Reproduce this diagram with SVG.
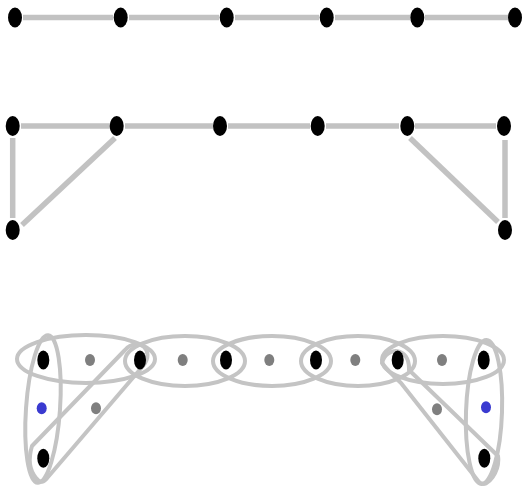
<svg xmlns="http://www.w3.org/2000/svg" width="522" height="487" viewBox="0 0 522 487">
<style>
.e{stroke:#c2c2c2;stroke-width:5.5;stroke-linecap:butt;fill:none}
.h{stroke:#c4c4c4;stroke-width:4;fill:none;stroke-linejoin:round}
.n{fill:#000}
.g{fill:#7f7f7f}
.b{fill:#3a3ad0}
</style>
<rect width="522" height="487" fill="#fff"/>
<g id="connectors">
<line class="e" x1="23" y1="17.5" x2="113" y2="17.5"/>
<line class="e" x1="129" y1="17.5" x2="219" y2="17.5"/>
<line class="e" x1="235" y1="17.5" x2="319" y2="17.5"/>
<line class="e" x1="335" y1="17.5" x2="410" y2="17.5"/>
<line class="e" x1="425" y1="17.5" x2="508" y2="17.5"/>
<line class="e" x1="21" y1="126" x2="110" y2="126"/>
<line class="e" x1="125" y1="126" x2="213" y2="126"/>
<line class="e" x1="228" y1="126" x2="310" y2="126"/>
<line class="e" x1="326" y1="126" x2="399" y2="126"/>
<line class="e" x1="415" y1="126" x2="496" y2="126"/>
<line class="e" x1="12.7" y1="138" x2="12.7" y2="218"/>
<line class="e" x1="115" y1="138" x2="22" y2="225"/>
<line class="e" x1="410" y1="138" x2="498" y2="222"/>
<line class="e" x1="505" y1="140" x2="505" y2="218"/>
</g>
<g id="hyperedges">
<ellipse class="h" cx="86" cy="359" rx="69" ry="24"/>
<ellipse class="h" cx="185" cy="361" rx="60" ry="25"/>
<ellipse class="h" cx="272" cy="361" rx="59" ry="25"/>
<ellipse class="h" cx="358" cy="361" rx="57" ry="25"/>
<ellipse class="h" cx="443" cy="360" rx="61" ry="24"/>
<ellipse class="h" cx="43" cy="409" rx="17" ry="74" transform="rotate(4 43 409)"/>
<ellipse class="h" cx="484" cy="412" rx="18" ry="72" transform="rotate(2 484 412)"/>
<path class="h" d="M125,350 L32,446 Q26,466 36,478 Q42,486 48,477 L143,366 C156,350 138,336 125,350 Z"/>
<path class="h" d="M382,363 C386,346 410,346 409,370 L498,456 C500,470 488,490 479,482 L401,383 Q388,371 382,363 Z"/>
</g>
<g id="r1n1"><ellipse class="n" cx="15" cy="17.5" rx="7" ry="10"/></g>
<g id="r1n2"><ellipse class="n" cx="120.7" cy="17.5" rx="7" ry="10"/></g>
<g id="r1n3"><ellipse class="n" cx="226.7" cy="17.5" rx="7" ry="10"/></g>
<g id="r1n4"><ellipse class="n" cx="326.7" cy="17.5" rx="7" ry="10"/></g>
<g id="r1n5"><ellipse class="n" cx="417.3" cy="17.5" rx="7" ry="10"/></g>
<g id="r1n6"><ellipse class="n" cx="515" cy="17.5" rx="7" ry="10"/></g>
<g id="r2n1"><ellipse class="n" cx="12.7" cy="126" rx="7" ry="10"/></g>
<g id="r2n2"><ellipse class="n" cx="116.7" cy="126" rx="7" ry="10"/></g>
<g id="r2n3"><ellipse class="n" cx="220" cy="126" rx="7" ry="10"/></g>
<g id="r2n4"><ellipse class="n" cx="317.7" cy="126" rx="7" ry="10"/></g>
<g id="r2n5"><ellipse class="n" cx="407.3" cy="126" rx="7" ry="10"/></g>
<g id="r2n6"><ellipse class="n" cx="504" cy="126" rx="7" ry="10"/></g>
<g id="r2n7"><ellipse class="n" cx="12.7" cy="230" rx="7" ry="10"/></g>
<g id="r2n8"><ellipse class="n" cx="505" cy="230" rx="7" ry="10"/></g>
<g id="r3n1"><ellipse class="n" cx="43.3" cy="360" rx="6" ry="9.5"/></g>
<g id="r3n2"><ellipse class="n" cx="140" cy="360" rx="6" ry="9.5"/></g>
<g id="r3n3"><ellipse class="n" cx="226" cy="360" rx="6" ry="9.5"/></g>
<g id="r3n4"><ellipse class="n" cx="316" cy="360" rx="6" ry="9.5"/></g>
<g id="r3n5"><ellipse class="n" cx="397.7" cy="360" rx="6" ry="9.5"/></g>
<g id="r3n6"><ellipse class="n" cx="483.7" cy="360" rx="6" ry="9.5"/></g>
<g id="r3n7"><ellipse class="n" cx="43.3" cy="458.3" rx="6" ry="9.5"/></g>
<g id="r3n8"><ellipse class="n" cx="484.3" cy="458.3" rx="6" ry="9.5"/></g>
<g id="r3g1"><ellipse class="g" cx="90" cy="360" rx="5" ry="6"/></g>
<g id="r3g2"><ellipse class="g" cx="182.7" cy="360" rx="5" ry="6"/></g>
<g id="r3g3"><ellipse class="g" cx="269.3" cy="360" rx="5" ry="6"/></g>
<g id="r3g4"><ellipse class="g" cx="355.3" cy="360" rx="5" ry="6"/></g>
<g id="r3g5"><ellipse class="g" cx="442" cy="360" rx="5" ry="6"/></g>
<g id="r3g6"><ellipse class="g" cx="96" cy="408.3" rx="5" ry="6"/></g>
<g id="r3g7"><ellipse class="g" cx="437" cy="409.3" rx="5" ry="6"/></g>
<g id="r3b1"><ellipse class="b" cx="41.7" cy="408.3" rx="5" ry="6"/></g>
<g id="r3b2"><ellipse class="b" cx="486" cy="407.3" rx="5" ry="6"/></g>
</svg>
